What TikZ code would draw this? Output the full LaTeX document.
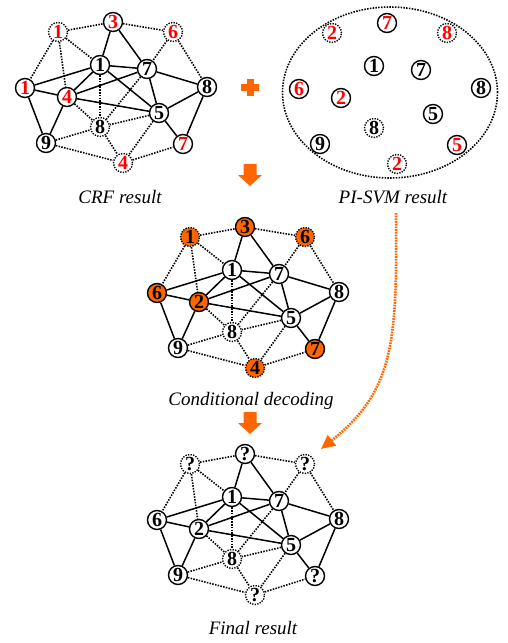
\documentclass[tikz,border=0pt]{standalone}
\usepackage{fontspec}
\setmainfont{Liberation Serif}
\usetikzlibrary{arrows.meta}
\definecolor{crfred}{RGB}{255,0,0}
\definecolor{hiorange}{RGB}{255,102,0}
\tikzset{
	vert/.style={circle,draw,fill=white,line width=1.4pt,minimum size=19pt,inner sep=0pt,font=\fontsize{20}{20}\selectfont\bfseries},
	dvert/.style={vert,dash pattern=on 1.3pt off 1.3pt},
	redv/.style={text=crfred},
	orgv/.style={fill=hiorange},
	sedge/.style={line width=1.5pt},
	dedge/.style={line width=1.6pt,dash pattern=on 1.5pt off 1.3pt},
	caption/.style={font=\fontsize{19}{19}\selectfont\itshape,anchor=base}
}
% solid and dotted links of one graph, #1 = name prefix
\newcommand{\graphedges}[1]{%
	\foreach \p/\q in {top/one,top/seven,one/left,one/seven,one/mid,one/five,seven/mid,seven/right,seven/five,left/mid,left/nine,mid/nine,mid/five,five/right,five/lowr,right/lowr}
		{\draw[sedge] (#1\p) -- (#1\q);}
	\foreach \p/\q in {topl/top,topl/one,topl/mid,topl/left,top/topr,topr/seven,topr/right,one/cen,mid/cen,seven/cen,five/cen,nine/cen,cen/low,five/low,nine/low,low/lowr}
		{\draw[dedge] (#1\p) -- (#1\q);}
}
\begin{document}
\begin{tikzpicture}[x=1pt,y=-1pt]
	\useasboundingbox (0,0) rectangle (507,643);

	% CRF result
	\node[vert,redv] (a-top) at (113,22) {3};
	\node[dvert,redv] (a-topl) at (58,32) {1};
	\node[dvert,redv] (a-topr) at (173,32) {6};
	\node[vert] (a-one) at (100,65) {1};
	\node[vert] (a-seven) at (147,69) {7};
	\node[vert,redv] (a-left) at (25,88) {1};
	\node[vert,redv] (a-mid) at (67,97) {4};
	\node[vert] (a-right) at (207,87) {8};
	\node[vert] (a-five) at (159,113) {5};
	\node[dvert] (a-cen) at (100,127) {8};
	\node[vert] (a-nine) at (46,143) {9};
	\node[vert,redv] (a-lowr) at (183,144) {7};
	\node[dvert,redv] (a-low) at (123,163) {4};
	\graphedges{a-}
	\node[caption] (crfcap) at (120,203) {CRF result};

	% PI-SVM result
	\draw[dedge] (390,92.5) ellipse [x radius=107.5pt, y radius=85.5pt];
	\begin{scope}[shift={(274,1)}]
		\node[vert,redv] (b-top) at (113,22) {7};
		\node[dvert,redv] (b-topl) at (58,32) {2};
		\node[dvert,redv] (b-topr) at (173,32) {8};
		\node[vert] (b-one) at (100,65) {1};
		\node[vert] (b-seven) at (147,69) {7};
		\node[vert,redv] (b-left) at (25,88) {6};
		\node[vert,redv] (b-mid) at (67,97) {2};
		\node[vert] (b-right) at (207,87) {8};
		\node[vert] (b-five) at (159,113) {5};
		\node[dvert] (b-cen) at (100,127) {8};
		\node[vert] (b-nine) at (46,143) {9};
		\node[vert,redv] (b-lowr) at (183,144) {5};
		\node[dvert,redv] (b-low) at (123,163) {2};
	\end{scope}
	\node[caption] (svmcap) at (393,203) {PI-SVM result};

	% plus and down arrows
	\fill[hiorange] (241,84) rectangle (259,91);
	\fill[hiorange] (246.5,79) rectangle (253.5,96);
	\foreach \dy in {0,248}
		\fill[hiorange] (243.5,164+\dy) -- (256.5,164+\dy) -- (256.5,175+\dy) -- (262,175+\dy)
			-- (250,186+\dy) -- (238,175+\dy) -- (243.5,175+\dy) -- cycle;

	% Conditional decoding
	\begin{scope}[shift={(132,205)}]
		\node[vert,orgv] (c-top) at (113,22) {3};
		\node[dvert,orgv] (c-topl) at (58,32) {1};
		\node[dvert,orgv] (c-topr) at (173,32) {6};
		\node[vert] (c-one) at (100,65) {1};
		\node[vert] (c-seven) at (147,69) {7};
		\node[vert,orgv] (c-left) at (25,88) {6};
		\node[vert,orgv] (c-mid) at (67,97) {2};
		\node[vert] (c-right) at (207,87) {8};
		\node[vert] (c-five) at (159,113) {5};
		\node[dvert] (c-cen) at (100,127) {8};
		\node[vert] (c-nine) at (46,143) {9};
		\node[vert,orgv] (c-lowr) at (183,144) {7};
		\node[dvert,orgv] (c-low) at (123,163) {4};
	\end{scope}
	\graphedges{c-}
	\node[caption] (deccap) at (251,405) {Conditional decoding};

	% Final result
	\begin{scope}[shift={(132,432)}]
		\node[vert] (d-top) at (113,22) {?};
		\node[dvert] (d-topl) at (58,32) {?};
		\node[dvert] (d-topr) at (173,32) {?};
		\node[vert] (d-one) at (100,65) {1};
		\node[vert] (d-seven) at (147,69) {7};
		\node[vert] (d-left) at (25,88) {6};
		\node[vert] (d-mid) at (67,97) {2};
		\node[vert] (d-right) at (207,87) {8};
		\node[vert] (d-five) at (159,113) {5};
		\node[dvert] (d-cen) at (100,127) {8};
		\node[vert] (d-nine) at (46,143) {9};
		\node[vert] (d-lowr) at (183,144) {?};
		\node[dvert] (d-low) at (123,163) {?};
	\end{scope}
	\graphedges{d-}
	\node[caption] (fincap) at (253,634) {Final result};

	% PI-SVM output feeds the final result
	\coordinate (svmout) at (396,213);
	\coordinate (finin) at (321,449);
	\draw[hiorange,line width=2.6pt,dash pattern=on 1.7pt off 1pt,-{Triangle[length=14pt,width=13pt]}]
		(svmout) .. controls (397,340) and (395,390) .. (finin);
\end{tikzpicture}
\end{document}
